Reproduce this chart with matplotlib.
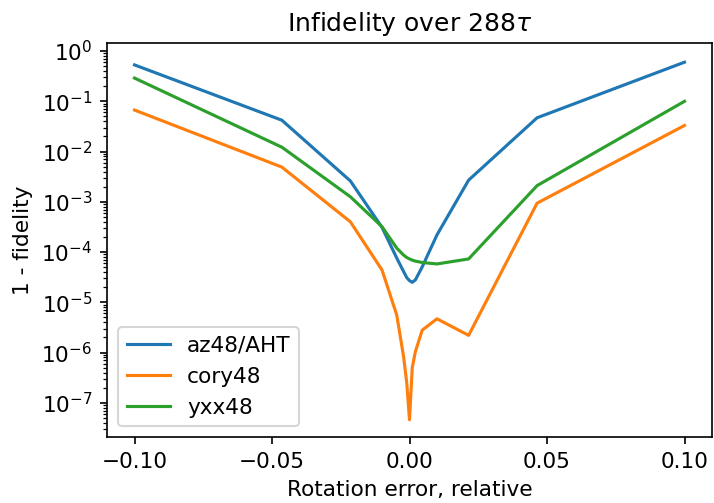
import numpy as np
import matplotlib
matplotlib.use("Agg")
import matplotlib.pyplot as plt

# Rotation error values (relative)
x = [-0.1, -0.0464, -0.0215, -0.01, -0.00464, -0.00215, -0.001, 0.0,
     0.001, 0.00215, 0.00464, 0.01, 0.0215, 0.0464, 0.1]

az48 = [0.53, 0.042, 2.6e-3, 3.1e-4, 7.6e-5, 4.1e-5, 3.1e-5, 2.7e-5,
        2.5e-5, 2.8e-5, 5.1e-5, 2.2e-4, 2.7e-3, 0.047, 0.6]
cory48 = [0.067, 4.9e-3, 4.0e-4, 4.4e-5, 5.6e-6, 8.3e-7, 2.5e-7, 4.6e-8,
          5.0e-7, 1.05e-6, 2.8e-6, 4.7e-6, 2.2e-6, 9.4e-4, 0.033]
yxx48 = [0.29, 0.0122, 1.26e-3, 3.2e-4, 1.2e-4, 8.7e-5, 7.8e-5, 7.3e-5,
         6.9e-5, 6.6e-5, 6.2e-5, 5.8e-5, 7.3e-5, 2.1e-3, 0.10]

labels = ["az48/AHT", "cory48", "yxx48"]
xticks = [-0.10, -0.05, 0.00, 0.05, 0.10]

plt.rcParams["font.size"] = 10.4

fig = plt.figure(figsize=(714 / 150, 503 / 150), dpi=150)
ax = fig.add_axes([107 / 714, (503 - 437) / 503, (712 - 107) / 714, (437 - 43) / 503])

for series, lab in zip([az48, cory48, yxx48], labels):
    ax.plot(x, series, label=lab)

ax.set_yscale("log")
ax.set_ylim(10 ** -7.68, 10 ** 0.16)
ax.set_xticks(xticks)
ax.set_title("Infidelity over 288$\\tau$", fontsize=12)
ax.set_xlabel("Rotation error, relative")
ax.set_ylabel("1 - fidelity")
ax.legend(loc="lower left")

fig.savefig("out.png", dpi=150)
